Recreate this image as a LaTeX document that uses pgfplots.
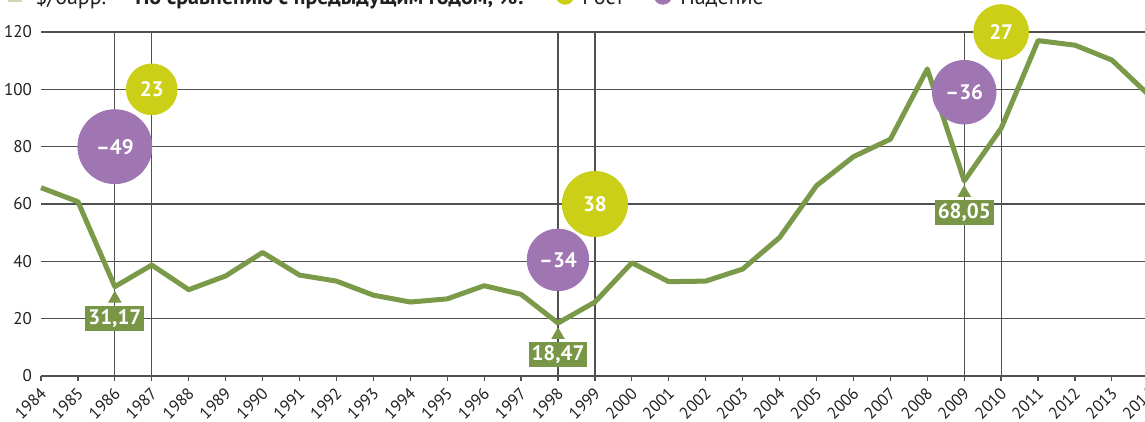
\documentclass[border=0pt]{standalone}
\usepackage{pgfplots}
\pgfplotsset{compat=1.18}
\usepackage{pgfplotstable}
\usepackage{fontspec}
\setmainfont{PT Sans}
\definecolor{linegreen}{HTML}{7A9A49}
\definecolor{boxgreen}{HTML}{789646}
\definecolor{bpurple}{HTML}{9F75B2}
\definecolor{byellow}{HTML}{CBCF17}
\definecolor{gridc}{HTML}{505050}
\definecolor{txt}{HTML}{231F20}

\pgfplotstableread{
year price
1984 65.7
1985 60.8
1986 31.17
1987 38.7
1988 30.1
1989 34.9
1990 43.1
1991 35.2
1992 33.1
1993 28.2
1994 25.8
1995 26.9
1996 31.5
1997 28.5
1998 18.47
1999 25.8
2000 39.5
2001 32.9
2002 33.1
2003 37.3
2004 48.3
2005 66.4
2006 76.5
2007 82.6
2008 107.1
2009 68.05
2010 86.4
2011 117.0
2012 115.4
2013 110.2
2014 98.0
}\pricetable

\pgfplotstableread{
x y lab
1986 31.17 31,17
1998 18.47 18,47
2009 68.05 68,05
}\boxtable

\newcommand{\bubfont}{\fontsize{10.5}{12}\selectfont\bfseries}

\begin{document}
\begin{tikzpicture}
\begin{axis}[
  scale only axis,
  width=572.4pt, height=172pt,
  xmin=1984, xmax=2015,
  ymin=0, ymax=120,
  clip=false,
  axis lines*=left,
  y axis line style={draw=none},
  x axis line style={color=gridc, line width=0.7pt},
  xtick={1984,...,2014},
  ytick={0,20,...,120},
  xtick pos=left,
  tick align=outside,
  major tick length=2.5pt,
  x tick style={color=gridc, line width=0.6pt},
  y tick style={draw=none},
  ymajorgrids,
  y grid style={color=gridc, line width=0.65pt},
  extra x ticks={1986,1987,1998,1999,2009,2010},
  extra x tick labels={},
  extra x tick style={grid=major, major grid style={color=gridc, line width=0.6pt}},
  /pgf/number format/1000 sep={},
  /pgf/number format/assume math mode=true,
  tick label style={font=\fontsize{8.5}{10}\selectfont, text=txt},
  xticklabel style={xshift=2pt, yshift=-4pt, rotate=45, anchor=east, inner sep=1pt,
    font=\fontsize{8.3}{10}\selectfont},
  yticklabel style={xshift=1.5pt},
]
\coordinate (O) at (axis cs:1984,0);

% legend swatches (cut by the top edge, as in the source)
\addplot[forget plot, color=linegreen!40, line width=2.5pt, mark=none]
  coordinates {(1983.106,131.3) (1983.486,131.3)};
\addplot[forget plot, only marks, mark=*, color=byellow, mark size=4.5pt]
  coordinates {(1998.19,132.8)};
\addplot[forget plot, only marks, mark=*, color=bpurple, mark size=4.5pt]
  coordinates {(2000.84,132.8)};
\node[anchor=base west, inner sep=0pt, text=txt, font=\fontsize{11}{13}\selectfont]
  at (axis cs:1983.84,129.7) {\$/барр.};
\node[anchor=base west, inner sep=0pt, text=txt, font=\fontsize{11}{13}\selectfont\bfseries]
  at (axis cs:1986.545,129.7) {По сравнению с предыдущим годом, \%:};
\node[anchor=base west, inner sep=0pt, text=txt, font=\fontsize{11}{13}\selectfont]
  at (axis cs:1998.65,129.7) {Рост};
\node[anchor=base west, inner sep=0pt, text=txt, font=\fontsize{11}{13}\selectfont]
  at (axis cs:2001.30,129.7) {Падение};

% bubbles
\addplot[forget plot, only marks, mark=*, color=bpurple, mark size=18.5pt,
  nodes near coords={–49}, every node near coord/.style={anchor=center, text=white, font=\bubfont}]
  coordinates {(1986,80)};
\addplot[forget plot, only marks, mark=*, color=byellow, mark size=12.7pt,
  nodes near coords={23}, every node near coord/.style={anchor=center, text=white, font=\bubfont}]
  coordinates {(1987,100)};
\addplot[forget plot, only marks, mark=*, color=byellow, mark size=16.3pt,
  nodes near coords={38}, every node near coord/.style={anchor=center, text=white, font=\bubfont}]
  coordinates {(1999,60)};
\addplot[forget plot, only marks, mark=*, color=bpurple, mark size=15.4pt,
  nodes near coords={–34}, every node near coord/.style={anchor=center, text=white, font=\bubfont}]
  coordinates {(1998,40.5)};
\addplot[forget plot, only marks, mark=*, color=byellow, mark size=13.7pt,
  nodes near coords={27}, every node near coord/.style={anchor=center, text=white, font=\bubfont}]
  coordinates {(2010,120)};

% price line
\addplot[forget plot, color=linegreen, line width=2.5pt, line join=round, mark=none]
  table[x=year, y=price] {\pricetable};

\addplot[forget plot, only marks, mark=*, color=bpurple, mark size=15.9pt,
  nodes near coords={–36}, every node near coord/.style={anchor=center, text=white, font=\bubfont}]
  coordinates {(2009,99)};

% value boxes
\addplot[forget plot, only marks, mark=triangle*, mark size=3.5pt, color=boxgreen,
  mark options={yshift=-6pt},
  point meta=explicit symbolic, nodes near coords,
  every node near coord/.style={anchor=north, yshift=-3.5pt, fill=boxgreen, text=white,
    font=\bubfont, inner xsep=1.5pt, inner ysep=0pt, minimum height=12.5pt}]
  table[x=x, y=y, meta=lab] {\boxtable};
\end{axis}
\pgfresetboundingbox
\useasboundingbox ([shift={(-20.5pt,-23pt)}]O) rectangle ([shift={(552pt,188pt)}]O);
\end{tikzpicture}
\end{document}
